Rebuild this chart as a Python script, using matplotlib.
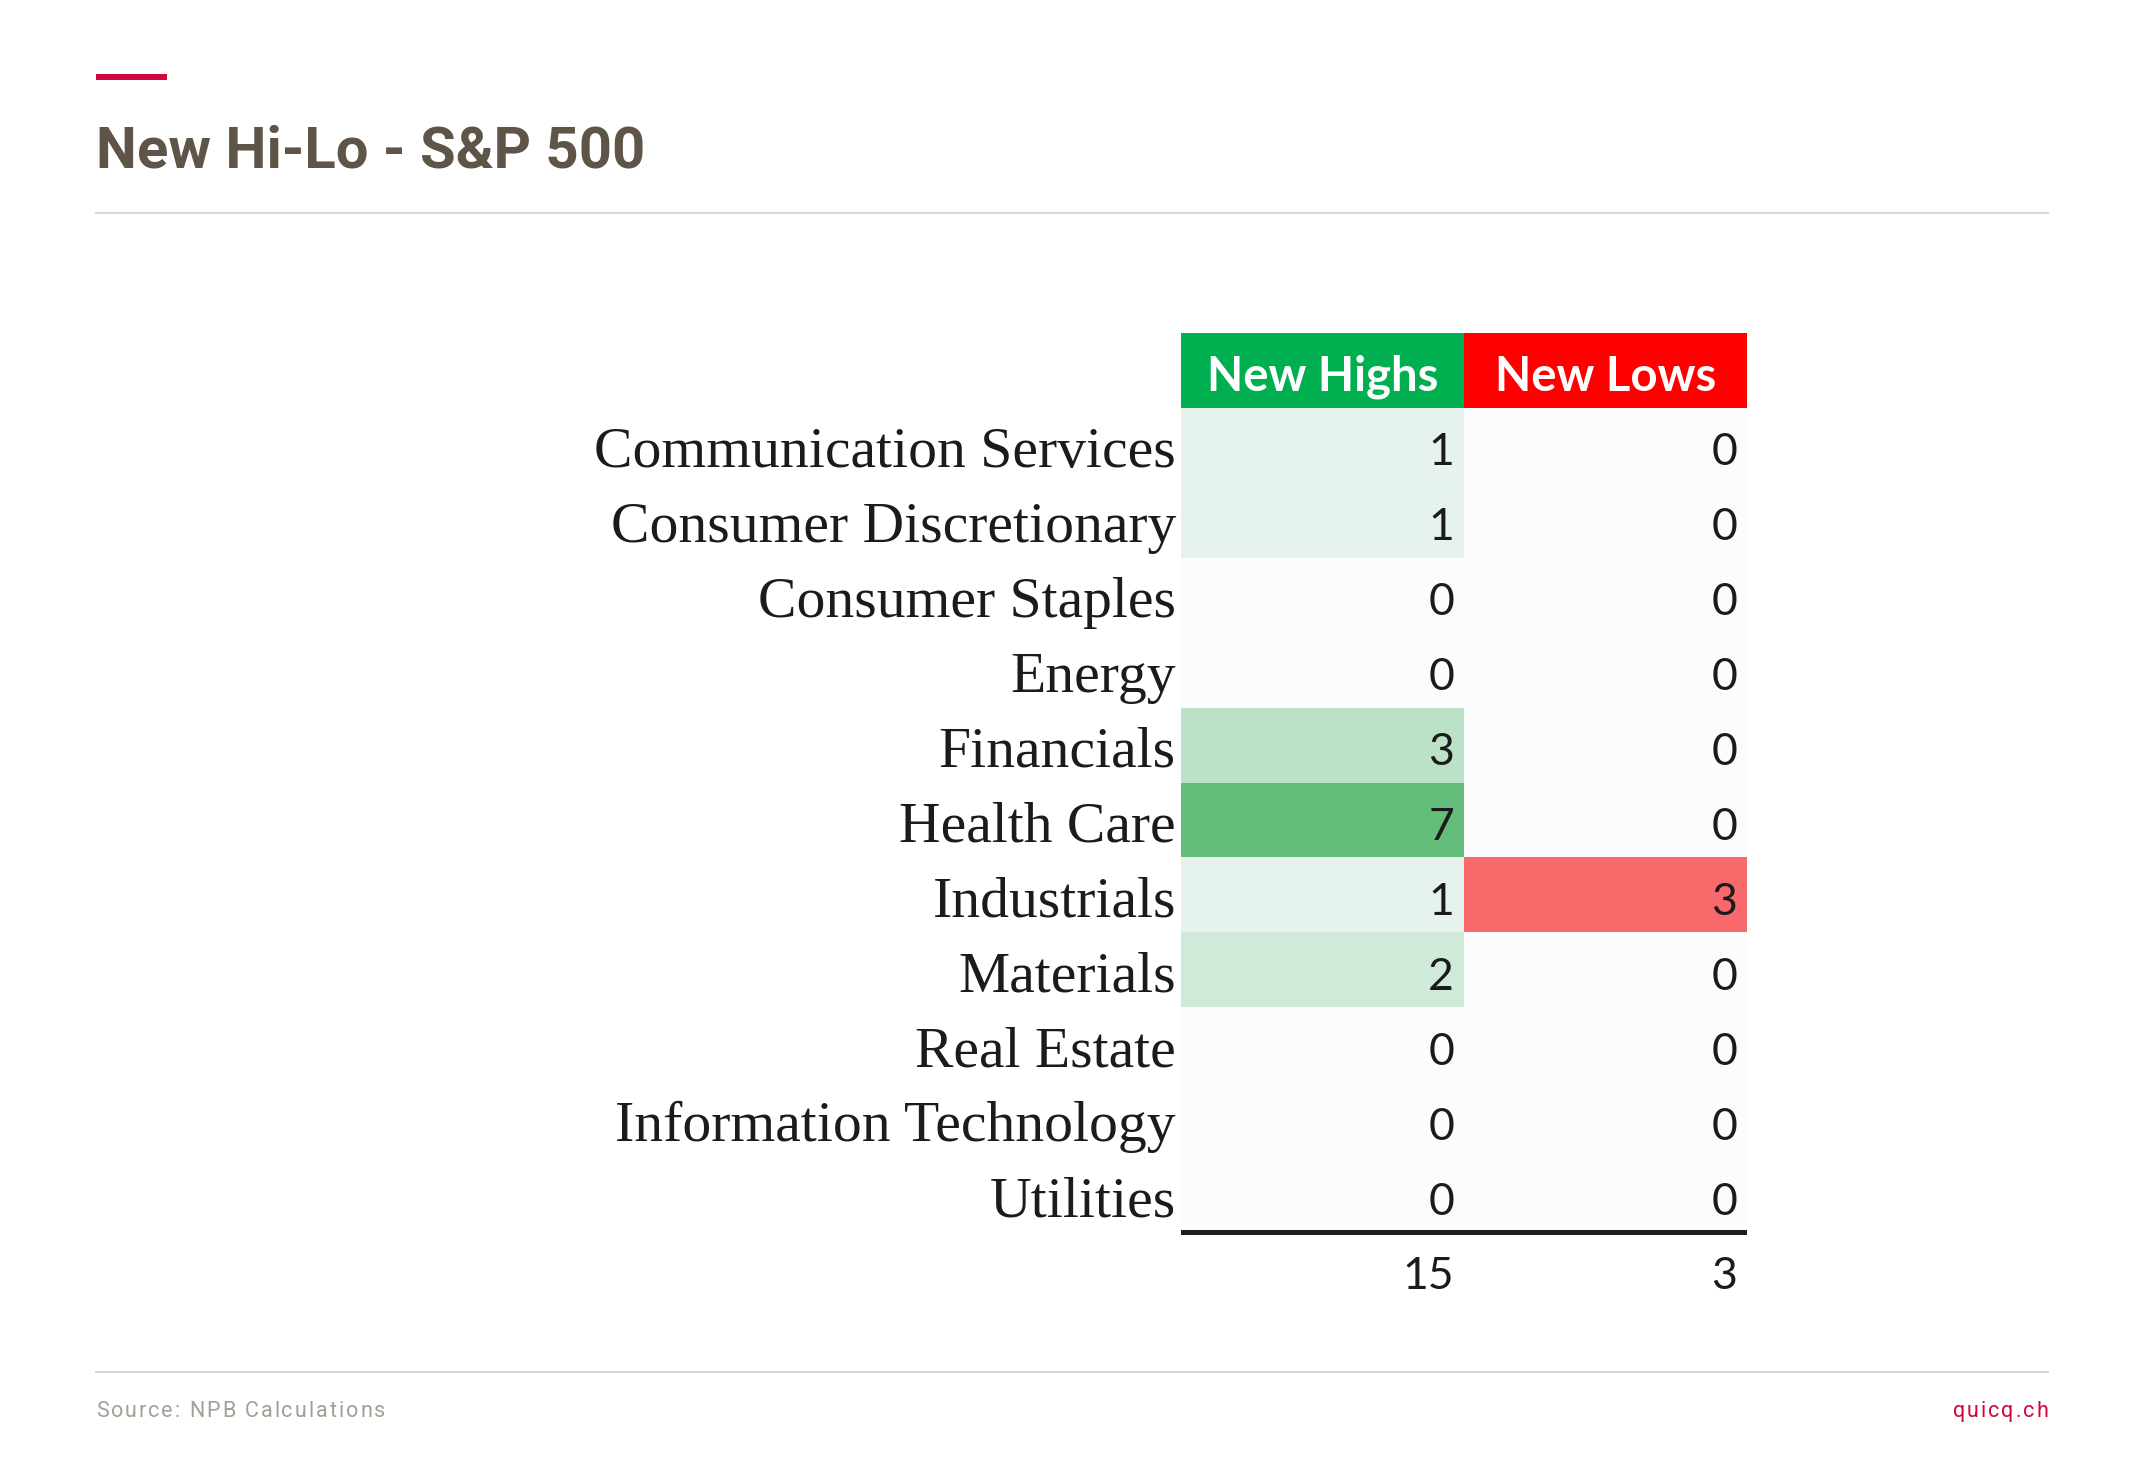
import numpy as np
import matplotlib
matplotlib.use("Agg")
import matplotlib.pyplot as plt
from matplotlib.colors import LinearSegmentedColormap, Normalize
from matplotlib.lines import Line2D
from matplotlib.patches import Rectangle

sectors = ["Communication Services", "Consumer Discretionary", "Consumer Staples",
           "Energy", "Financials", "Health Care", "Industrials", "Materials",
           "Real Estate", "Information Technology", "Utilities"]
new_highs = [1, 1, 0, 0, 3, 7, 1, 2, 0, 0, 0]
new_lows = [0, 0, 0, 0, 0, 0, 3, 0, 0, 0, 0]
headers = ["New Highs", "New Lows"]

TITLE = "New Hi-Lo - S&P 500"
SOURCE = "Source: NPB Calculations"
BRAND = "quicq.ch"

W, H = 2145, 1458
TITLE_COLOR = "#5e5447"
CRIMSON = "#d1063d"
GREY_LINE = "#dcd7d1"
FOOT_COLOR = "#a69e95"
HEADER_COLORS = ["#00b050", "#ff0000"]
SCALE_TOPS = ["#63be7b", "#f8696b"]
SCALE_MIN = "#fcfcff"

LABEL_FONT = ["Liberation Serif", "DejaVu Serif"]
CELL_FONT = ["Lato", "DejaVu Sans"]
HEAD_FONT = ["Roboto", "DejaVu Sans"]


def fx(px):
    return px / W


def fy(py):
    return 1 - py / H


def spaced_text(fig, x_px, y_px, text, tracking, ha="left", **kw):
    """Texto con espaciado entre letras: matplotlib no lo soporta, asi que
    se coloca cada caracter midiendo el ancho del prefijo con el renderer."""
    renderer = fig.canvas.get_renderer()

    def width(s):
        if not s:
            return 0.0
        t = fig.text(0, 0, s, **kw)
        w = t.get_window_extent(renderer).width
        t.remove()
        return w

    total = width(text) + tracking * (len(text) - 1)
    start = x_px if ha == "left" else x_px - total
    for k, ch in enumerate(text):
        if ch == " ":
            continue
        x = start + width(text[:k]) + tracking * k
        fig.text(fx(x), fy(y_px), ch, ha="left", va="baseline", **kw)


fig = plt.figure(figsize=(W / 100, H / 100), dpi=100)
fig.patch.set_facecolor("white")

# cabecera: barra roja, titulo y linea gris
fig.add_artist(Rectangle((fx(96), fy(80)), fx(167) - fx(96), fy(74) - fy(80),
                         transform=fig.transFigure, color=CRIMSON, lw=0))
fig.text(fx(96), fy(168), TITLE, fontsize=41.8, fontweight="bold", color=TITLE_COLOR,
         family=HEAD_FONT, ha="left", va="baseline")
for yline in (213, 1372):
    fig.add_artist(Line2D([fx(96), fx(2048)], [fy(yline), fy(yline)],
                          transform=fig.transFigure, color=GREY_LINE, lw=1.5))

# pie
spaced_text(fig, 96, 1417, SOURCE, 2.0, ha="left", fontsize=15.5,
            color=FOOT_COLOR, family=HEAD_FONT)
spaced_text(fig, 2048, 1417, BRAND, 2.0, ha="right", fontsize=15.5,
            color=CRIMSON, family=HEAD_FONT)

# tabla: filas -1 (cabecera) .. 11 (total), columnas 0..2
row_h = (1232 - 408) / len(sectors)
top = 408 - row_h
bottom = 1232 + row_h
ax = fig.add_axes([fx(1181), fy(bottom), fx(1747) - fx(1181), fy(top) - fy(bottom)])
ax.set_xlim(0, 2)
ax.set_ylim(len(sectors) + 1, -1)
ax.axis("off")

ncols = len(headers)
cols = [new_highs, new_lows]
rows = np.arange(len(sectors) + 1)
for j, values in enumerate(cols):
    cmap = LinearSegmentedColormap.from_list(f"scale{j}", [SCALE_MIN, SCALE_TOPS[j]])
    norm = Normalize(vmin=min(values), vmax=max(values))
    ax.pcolormesh([j, j + 1], rows, np.array(values).reshape(-1, 1),
                  cmap=cmap, norm=norm, shading="flat")

ax.bar(np.arange(ncols) + 0.5, 1, width=1, bottom=-1, color=HEADER_COLORS, lw=0)
for j, name in enumerate(headers):
    ax.text(j + 0.5, -0.42, name, ha="center", va="center", fontsize=34,
            fontweight="bold", color="white", family=CELL_FONT)

pad = 0.035
ytxt = 0.6
for i, name in enumerate(sectors):
    ax.text(-0.018, i + ytxt, name, ha="right", va="center", fontsize=41.5,
            color="#1b1b1b", family=LABEL_FONT, clip_on=False)
    for j, values in enumerate(cols):
        ax.text(j + 1 - pad, i + ytxt, str(values[i]), ha="right", va="center",
                fontsize=32, color="#1b1b1b", family=CELL_FONT)

# linea de total y totales
ax.axhline(len(sectors), color="#1e1e1e", lw=3.6)
for j, values in enumerate(cols):
    ax.text(j + 1 - pad, len(sectors) + ytxt, str(sum(values)), ha="right",
            va="center", fontsize=32, color="#1b1b1b", family=CELL_FONT)

fig.savefig("out.png", dpi=100)
